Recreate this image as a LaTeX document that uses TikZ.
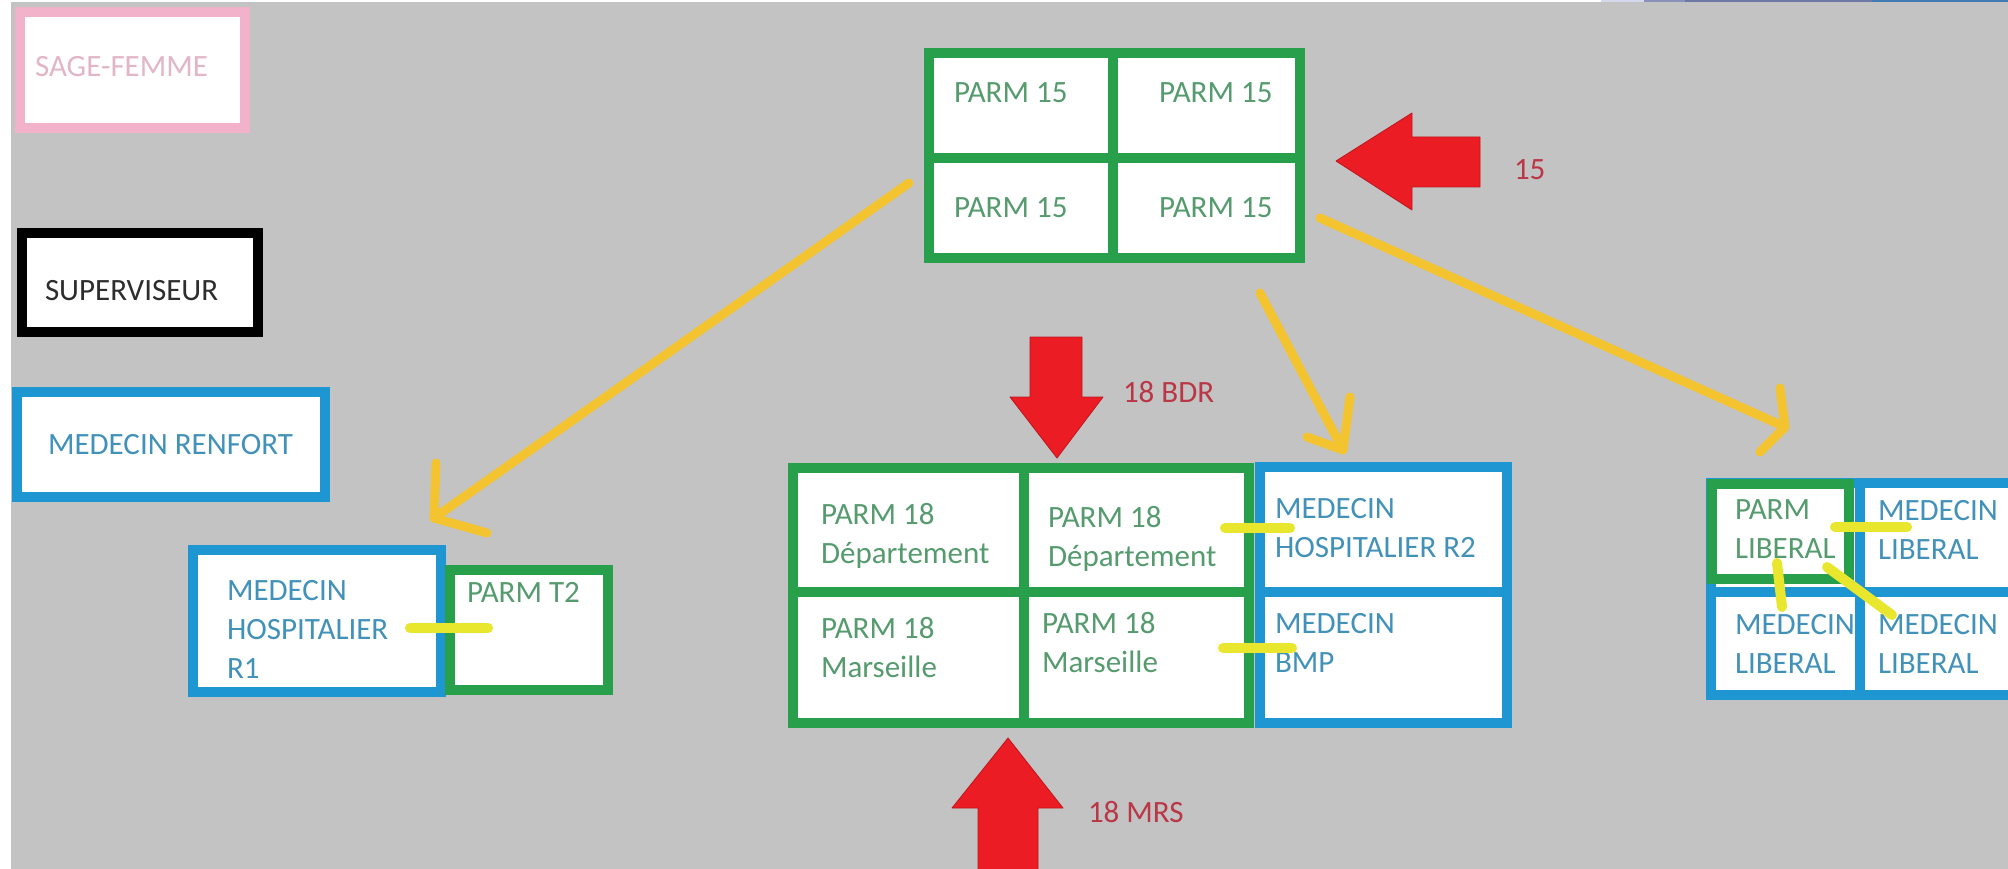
\documentclass[tikz,border=0pt]{standalone}
\usepackage{fontspec}
\setmainfont{Carlito}
\definecolor{bg}{RGB}{195,195,195}
\definecolor{gborder}{RGB}{40,160,75}
\definecolor{bborder}{RGB}{30,150,210}
\definecolor{pinkb}{RGB}{242,178,202}
\definecolor{pinkt}{RGB}{226,182,200}
\definecolor{gtext}{RGB}{85,155,110}
\definecolor{btext}{RGB}{65,145,185}
\definecolor{dtext}{RGB}{45,45,45}
\definecolor{rtext}{RGB}{185,55,70}
\definecolor{redarr}{RGB}{236,28,36}
\definecolor{gold}{RGB}{244,196,48}
\definecolor{yel}{RGB}{232,230,45}
\definecolor{stripa}{RGB}{212,216,236}
\definecolor{stripb}{RGB}{135,145,185}
\definecolor{stripc}{RGB}{110,120,165}
\definecolor{stripd}{RGB}{65,125,180}
\newcommand\cell[6]{\node[cellbox,#2,minimum width={#5pt-#3pt},minimum height={#6pt-#4pt}] (#1) at ({(#3+#5)/2},{(#4+#6)/2}) {};}
\newcommand\tx[5]{\node[txt,text=#2] (#1) at (#3,{#4-10}) {#5};}
\begin{document}
\begin{tikzpicture}[x=1pt,y=-1pt,
  cellbox/.style={draw, fill=white, line width=10pt, inner sep=0pt, outer sep=0pt, minimum size=0pt},
  gcell/.style={draw=gborder},
  bcell/.style={draw=bborder},
  txt/.style={inner sep=0pt, outer sep=0pt, anchor=north west, align=left, font=\fontsize{31}{39}\selectfont},
  goldarrow/.style={draw=gold, line width=9pt, line cap=round, line join=round},
  link/.style={draw=yel, line width=10pt, line cap=round},
  redshape/.style={fill=redarr, draw=redarr!80!black, line width=0.8pt, line join=round}
]
\useasboundingbox (0,0) rectangle (2008,869);
\clip (0,0) rectangle (2008,869);
\fill[white] (0,0) rectangle (2008,869);
\fill[bg] (11,2) rectangle (2008,869);
% top strip of the window behind
\fill[stripa] (1601,0) rectangle (1644,2.5);
\fill[stripb] (1644,0) rectangle (1685,2.5);
\fill[stripc] (1685,0) rectangle (1872,2.5);
\fill[stripd] (1872,0) rectangle (2008,2.5);

% ---------- yellow (gold) arrows ----------
\coordinate (aLs) at (909,183);  \coordinate (aLt) at (434,518);
\coordinate (aLb1) at (436,463); \coordinate (aLb2) at (487,533);
\coordinate (aMs) at (1260,293); \coordinate (aMt) at (1343,450);
\coordinate (aMb1) at (1350,397); \coordinate (aMb2) at (1307,437);
\coordinate (aRs) at (1320,218); \coordinate (aRt) at (1785,427);
\coordinate (aRb1) at (1780,388); \coordinate (aRb2) at (1760,452);
\draw[goldarrow] (aLs) -- (aLt);
\draw[goldarrow] (aLb1) -- (aLt) -- (aLb2);
\draw[goldarrow] (aMs) -- (aMt);
\draw[goldarrow] (aMb1) -- (aMt) -- (aMb2);
\draw[goldarrow] (aRs) -- (aRt);
\draw[goldarrow] (aRb1) -- (aRt) -- (aRb2);

% ---------- legend ----------
\cell{sage}{draw=pinkb}{20}{12}{245}{128}
\cell{sup}{draw=black}{22}{233}{258}{332}
\cell{renf}{bcell}{17}{392}{325}{497}
\tx{tsage}{pinkt}{35}{66}{SAGE-FEMME}
\tx{tsup}{dtext}{45}{290}{SUPERVISEUR}
\tx{trenf}{btext}{48}{444}{MEDECIN RENFORT}

% ---------- top grid PARM 15 ----------
\cell{p15a}{gcell}{929}{53}{1113}{158}
\cell{p15b}{gcell}{1113}{53}{1300}{158}
\cell{p15c}{gcell}{929}{158}{1113}{258}
\cell{p15d}{gcell}{1113}{158}{1300}{258}
\tx{tp15a}{gtext}{954}{93}{PARM 15}
\tx{tp15b}{gtext}{1159}{93}{PARM 15}
\tx{tp15c}{gtext}{954}{208}{PARM 15}
\tx{tp15d}{gtext}{1159}{208}{PARM 15}

% ---------- middle grid ----------
\cell{m1}{gcell}{793}{468}{1024}{592}
\cell{m2}{gcell}{1024}{468}{1249}{592}
\cell{m3}{gcell}{793}{592}{1024}{723}
\cell{m4}{gcell}{1024}{592}{1249}{723}
\cell{r2}{bcell}{1260}{467}{1507}{592}
\cell{bmp}{bcell}{1260}{592}{1507}{723}
\tx{tm1}{gtext}{821}{513}{PARM 18\\Département}
\tx{tm2}{gtext}{1048}{516}{PARM 18\\Département}
\tx{tm3}{gtext}{821}{627}{PARM 18\\Marseille}
\tx{tm4}{gtext}{1042}{622}{PARM 18\\Marseille}
\tx{tr2}{btext}{1275}{508}{MEDECIN\\HOSPITALIER R2}
\tx{tbmp}{btext}{1275}{623}{MEDECIN\\BMP}

% ---------- left group ----------
\cell{r1}{bcell}{193}{550}{441}{692}
\cell{t2}{gcell}{450}{570}{608}{690}
\tx{tr1}{btext}{227}{590}{MEDECIN\\HOSPITALIER\\R1}
\tx{tt2}{gtext}{467}{592}{PARM T2}

% ---------- liberal group ----------
\cell{l1}{bcell}{1711}{483}{1860}{592}
\cell{l2}{bcell}{1860}{483}{2040}{592}
\cell{l3}{bcell}{1711}{592}{1860}{695}
\cell{l4}{bcell}{1860}{592}{2040}{695}
\cell{lp}{gcell}{1712}{484}{1849}{579}
\tx{tlp}{gtext}{1735}{510}{PARM\\LIBERAL}
\tx{tl2}{btext}{1878}{510}{MEDECIN\\LIBERAL}
\tx{tl3}{btext}{1735}{624}{MEDECIN\\LIBERAL}
\tx{tl4}{btext}{1878}{624}{MEDECIN\\LIBERAL}

% ---------- yellow links ----------
\coordinate (k1a) at (410,628);  \coordinate (k1b) at (488,628);
\coordinate (k2a) at (1225,528); \coordinate (k2b) at (1290,528);
\coordinate (k3a) at (1223,648); \coordinate (k3b) at (1292,648);
\coordinate (k4a) at (1835,527); \coordinate (k4b) at (1907,527);
\coordinate (k5a) at (1777,563); \coordinate (k5b) at (1782,607);
\coordinate (k6a) at (1827,567); \coordinate (k6b) at (1892,615);
\draw[link] (k1a) -- (k1b);
\draw[link] (k2a) -- (k2b);
\draw[link] (k3a) -- (k3b);
\draw[link] (k4a) -- (k4b);
\draw[link] (k5a) -- (k5b);
\draw[link] (k6a) -- (k6b);

% ---------- red arrows ----------
\path[redshape] (1336,161) -- (1412,113) -- (1412,137) -- (1480,137) -- (1480,187) -- (1412,187) -- (1412,210) -- cycle;
\path[redshape] (1057,458) -- (1010,397) -- (1030,397) -- (1030,337) -- (1082,337) -- (1082,397) -- (1103,397) -- cycle;
\path[redshape] (1008,738) -- (1063,808) -- (1038,808) -- (1038,880) -- (978,880) -- (978,808) -- (952,808) -- cycle;
\node[txt,anchor=west,text=rtext] (l15) at (1514,170) {15};
\node[txt,anchor=west,text=rtext] (l18b) at (1123,392) {18 BDR};
\node[txt,anchor=west,text=rtext] (l18m) at (1088,812) {18 MRS};
\end{tikzpicture}
\end{document}
